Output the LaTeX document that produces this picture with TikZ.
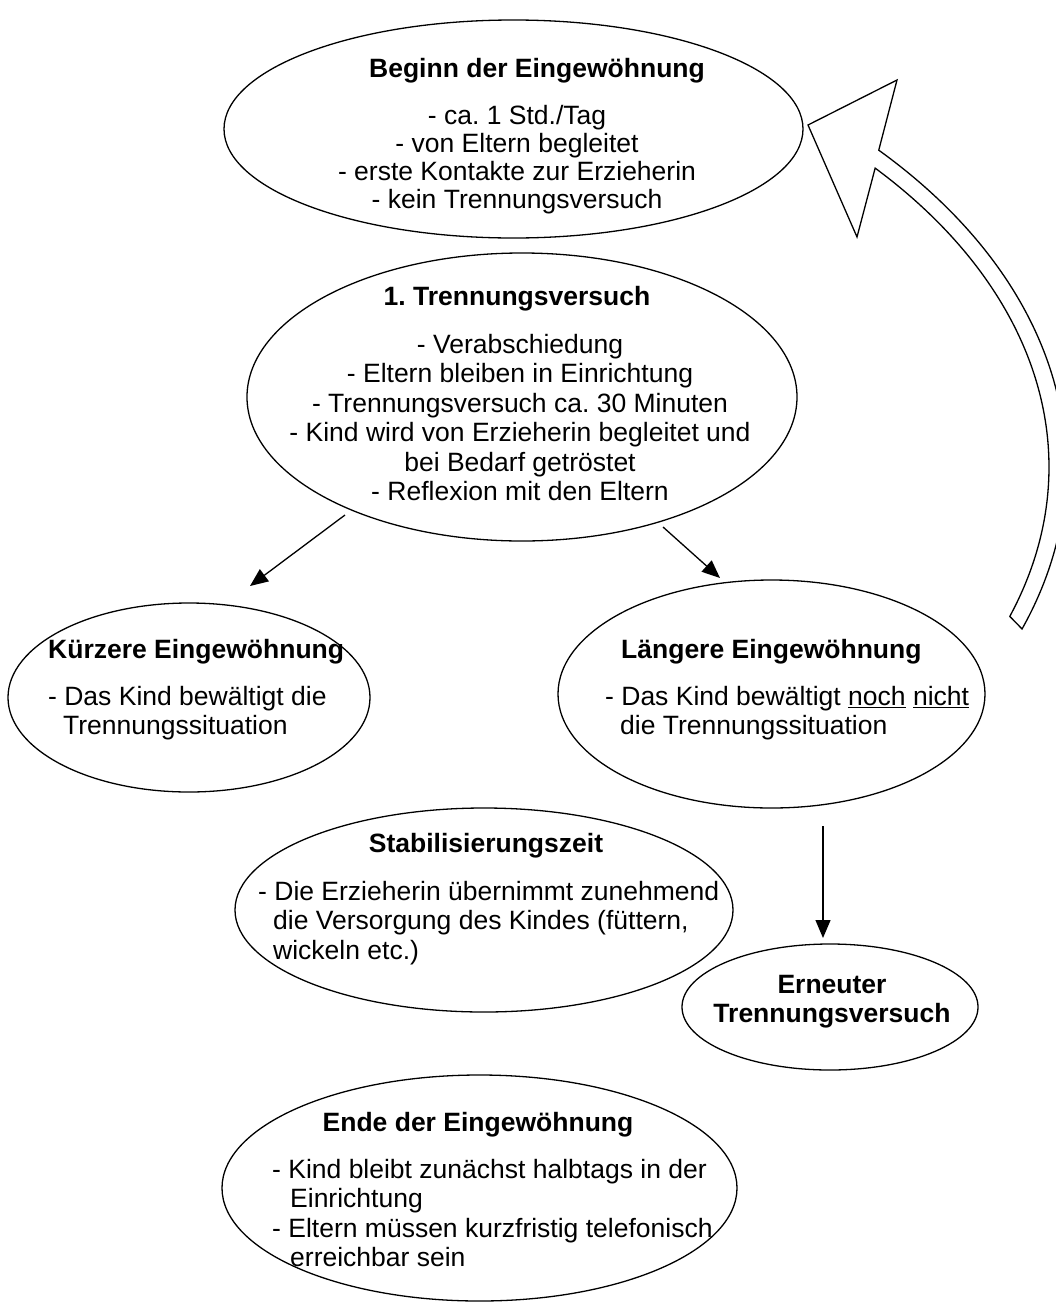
\documentclass[tikz,border=0pt]{standalone}
\usepackage{fontspec}
\setmainfont{Liberation Sans}
\usetikzlibrary{shapes.geometric,arrows.meta}
\frenchspacing
\begin{document}
\begin{tikzpicture}[x=1pt,y=-1pt,
  bub/.style={draw, ellipse, line width=1.3pt, inner sep=0pt, outer sep=0pt},
  ttl/.style={font=\fontsize{26.5}{29.5}\selectfont\bfseries, inner sep=0pt},
  bodyc/.style={font=\fontsize{26.5}{29.5}\selectfont, inner sep=0pt, align=center, anchor=north},
  bodyl/.style={font=\fontsize{26.5}{29.5}\selectfont, inner sep=0pt, align=left, anchor=north west},
  arr/.style={line width=1.3pt, -{Triangle[length=18pt,width=15pt]}},
  hollow/.style={line width=1.3pt, line join=miter, fill=white},
]
\useasboundingbox (0,0) rectangle (1056,1304);

% ellipses
\node[bub, minimum width=579pt, minimum height=218pt] (e1) at (513.5,129) {};
\node[bub, minimum width=550pt, minimum height=288pt] (e2) at (522,397) {};
\node[bub, minimum width=362pt, minimum height=189pt] (e3) at (189,697.5) {};
\node[bub, minimum width=427pt, minimum height=228pt] (e4) at (771.5,694) {};
\node[bub, minimum width=498pt, minimum height=204pt] (e5) at (484,910) {};
\node[bub, minimum width=296pt, minimum height=126pt] (e6) at (830,1007) {};
\node[bub, minimum width=515pt, minimum height=226pt] (e7) at (479.5,1188) {};

% texts
\node[ttl, anchor=base] (t1) at (537,77.5) {Beginn der Eingewöhnung};
\node[bodyc, font=\fontsize{26.5}{28}\selectfont] (b1) at (517,105.5) {- ca. 1 Std./Tag\\- von Eltern begleitet\\- erste Kontakte zur Erzieherin\\- kein Trennungsversuch};

\node[ttl, anchor=base] (t2) at (517,305.5) {1. Trennungsversuch};
\node[bodyc] (b2) at (520,334) {- Verabschiedung\\- Eltern bleiben in Einrichtung\\- Trennungsversuch ca. 30 Minuten\\- Kind wird von Erzieherin begleitet und\\bei Bedarf getröstet\\- Reflexion mit den Eltern};

\node[ttl, anchor=base west] (t3) at (48,658.5) {Kürzere Eingewöhnung};
\node[bodyl] (b3) at (48,686) {- Das Kind bewältigt die\\\hspace*{15pt}Trennungssituation};

\node[ttl, anchor=base west] (t4) at (621,658.5) {Längere Eingewöhnung};
\node[bodyl] (b4) at (605,686) {- Das Kind bewältigt \underline{noch} \underline{nicht}\\\hspace*{15pt}die Trennungssituation};

\node[ttl, anchor=base] (t5) at (486,852.5) {Stabilisierungszeit};
\node[bodyl] (b5) at (258,881) {- Die Erzieherin übernimmt zunehmend\\\hspace*{15pt}die Versorgung des Kindes (füttern,\\\hspace*{15pt}wickeln etc.)};

\node[ttl, align=center, anchor=north] (t6) at (832,975) {Erneuter\\Trennungsversuch};

\node[ttl, anchor=base] (t7) at (478,1131.5) {Ende der Eingewöhnung};
\node[bodyl] (b7) at (272,1159) {- Kind bleibt zunächst halbtags in der\\\hspace*{18pt}Einrichtung\\- Eltern müssen kurzfristig telefonisch\\\hspace*{18pt}erreichbar sein};

% straight arrows
\coordinate (a1s) at (345,515);
\coordinate (a1e) at (250,586);
\coordinate (a2s) at (663,527);
\coordinate (a2e) at (720,578);
\coordinate (a3s) at (823,826);
\coordinate (a3e) at (823,938);
\draw[arr] (a1s) -- (a1e);
\draw[arr] (a2s) -- (a2e);
\draw[arr] (a3s) -- (a3e);

% hollow curved arrow back to the beginning
\coordinate (hc) at (337,467);
\coordinate (htop) at (897,80);
\coordinate (htip) at (808,125);
\coordinate (hbot) at (857,237);
\draw[hollow] ([shift={(20:729 and 473.5)}]hc)
  arc[start angle=20, end angle=-42, x radius=729, y radius=473.5]
  -- (htop) -- (htip) -- (hbot)
  -- ([shift={(-40.9:712 and 456.5)}]hc)
  arc[start angle=-40.9, end angle=19.1, x radius=712, y radius=456.5]
  -- cycle;
\end{tikzpicture}
\end{document}
